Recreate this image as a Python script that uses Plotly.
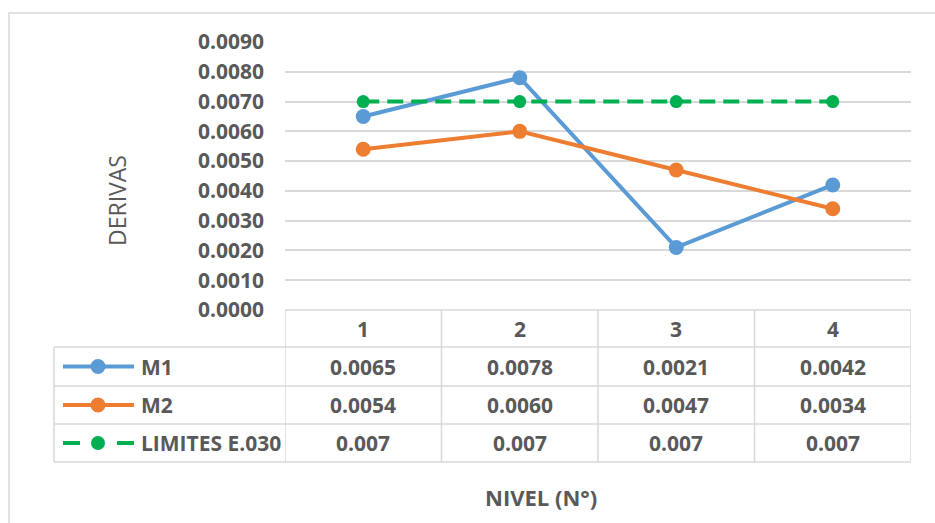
import plotly.graph_objects as go

# ---- data ----
niveles = ["1", "2", "3", "4"]
m1 = [0.0065, 0.0078, 0.0021, 0.0042]
m2 = [0.0054, 0.0060, 0.0047, 0.0034]
limite = [0.007, 0.007, 0.007, 0.007]
series_names = ["M1", "M2", "LIMITES E.030"]
series_fmt = ["{:.4f}", "{:.4f}", "{:.3f}"]
y_ticks = [0.0, 0.001, 0.002, 0.003, 0.004, 0.005, 0.006, 0.007, 0.008, 0.009]

# ---- style / layout constants ----
W, H = 935, 523
BLUE, ORANGE, GREEN = "#5B9BD5", "#ED7D31", "#00B050"
GRAY_TXT = "#595959"
GRID = "#D9D9D9"
FONT = "Open Sans"

def px(x):
    return x / W

def py(y):
    return 1 - y / H

plot_left, plot_right = 285, 911
plot_top, plot_bottom = 42, 310
table_left = 54
row_edges = [310, 347, 386, 424, 462]

xs = list(range(len(niveles)))
colors = [BLUE, ORANGE, GREEN]
values = [m1, m2, limite]

fig = go.Figure()
for name, vals, col in zip(series_names, values, colors):
    is_lim = name.startswith("LIMITES")
    fig.add_trace(go.Scatter(
        x=xs, y=vals, name=name, mode="lines+markers",
        line=dict(color=col, width=4, dash="16px,8px" if is_lim else "solid"),
        marker=dict(color=col, size=13 if is_lim else 15),
        cliponaxis=False, showlegend=False, hoverinfo="skip",
    ))

shapes = []
# outer chart border (right/bottom edges fall outside the visible window)
shapes.append(dict(type="rect", xref="paper", yref="paper",
                   x0=px(9), x1=1.03, y0=-0.03, y1=py(13),
                   line=dict(color=GRID, width=1.5), fillcolor="rgba(0,0,0,0)", layer="below"))
# table horizontal lines
for i, ye in enumerate(row_edges):
    x0 = plot_left if i == 0 else table_left
    shapes.append(dict(type="line", xref="paper", yref="paper",
                       x0=px(x0), x1=px(plot_right), y0=py(ye), y1=py(ye),
                       line=dict(color=GRID, width=1.5)))
# table vertical lines
shapes.append(dict(type="line", xref="paper", yref="paper",
                   x0=px(table_left), x1=px(table_left), y0=py(row_edges[1]), y1=py(row_edges[-1]),
                   line=dict(color=GRID, width=1.5)))
for k in range(len(niveles) + 1):
    shapes.append(dict(type="line", xref="x", yref="paper",
                       x0=k - 0.5, x1=k - 0.5, y0=py(row_edges[0]), y1=py(row_edges[-1]),
                       line=dict(color=GRID, width=1.5)))

annotations = []
# header row (category labels)
hc = (row_edges[0] + row_edges[1]) / 2
for i, lab in enumerate(niveles):
    annotations.append(dict(x=i, y=py(hc), xref="x", yref="paper", text=lab, showarrow=False,
                            font=dict(family=FONT, size=21, color=GRAY_TXT, weight="bold"),
                            xanchor="center", yanchor="middle"))
# series rows
for r, (name, vals, col, fmt) in enumerate(zip(series_names, values, colors, series_fmt)):
    yc = (row_edges[r + 1] + row_edges[r + 2]) / 2
    is_lim = name.startswith("LIMITES")
    # legend key
    shapes.append(dict(type="line", xref="paper", yref="paper",
                       x0=px(63), x1=px(134), y0=py(yc), y1=py(yc),
                       line=dict(color=col, width=4, dash="17px,37px" if is_lim else "solid")))
    rad = 7 if is_lim else 7.5
    shapes.append(dict(type="circle", xref="paper", yref="paper",
                       x0=px(98 - rad), x1=px(98 + rad), y0=py(yc + rad), y1=py(yc - rad),
                       line=dict(color=col, width=0), fillcolor=col))
    annotations.append(dict(x=px(139), y=py(yc), xref="paper", yref="paper", text=name,
                            showarrow=False, xanchor="left", yanchor="middle",
                            font=dict(family=FONT, size=21, color=GRAY_TXT, weight="bold")))
    for i, v in enumerate(vals):
        annotations.append(dict(x=i, y=py(yc), xref="x", yref="paper", text=fmt.format(v),
                                showarrow=False, xanchor="center", yanchor="middle",
                                font=dict(family=FONT, size=21, color=GRAY_TXT, weight="bold")))

# axis titles
annotations.append(dict(x=px(117), y=py(200), xref="paper", yref="paper", text="DERIVAS",
                        textangle=-90, showarrow=False, xanchor="center", yanchor="middle",
                        font=dict(family=FONT, size=23, color=GRAY_TXT)))
annotations.append(dict(x=px(541), y=py(497), xref="paper", yref="paper", text="NIVEL (N°)",
                        showarrow=False, xanchor="center", yanchor="middle",
                        font=dict(family=FONT, size=22, color=GRAY_TXT, weight="bold")))

fig.update_layout(
    width=W, height=H,
    margin=dict(l=0, r=0, t=0, b=0, pad=0, autoexpand=False),
    paper_bgcolor="white", plot_bgcolor="white",
    xaxis=dict(domain=[px(plot_left), px(plot_right)], range=[-0.5, len(niveles) - 0.5],
               showgrid=False, zeroline=False, showticklabels=False, showline=False,
               automargin=False, fixedrange=True),
    yaxis=dict(domain=[py(plot_bottom), py(plot_top)], range=[0, 0.009],
               tickvals=y_ticks, tickformat=".4f",
               showgrid=True, gridcolor=GRID, gridwidth=1.5, zeroline=False, showline=False,
               ticks="", ticklabelstandoff=20, automargin=False,
               tickfont=dict(family=FONT, size=21, color=GRAY_TXT, weight="bold"), fixedrange=True),
    shapes=shapes,
    annotations=annotations,
)

fig.write_html("out.html")
